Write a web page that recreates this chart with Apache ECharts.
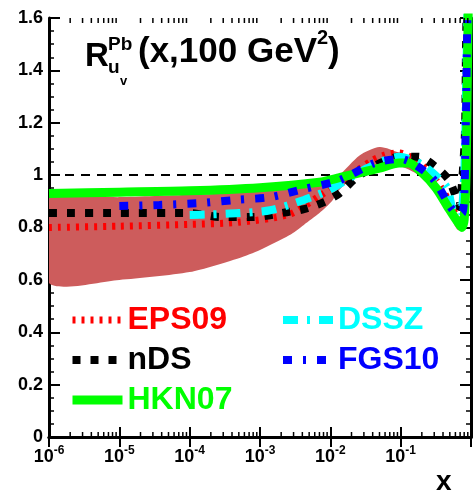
<!DOCTYPE html>
<html><head><meta charset="utf-8">
<script src="https://cdn.jsdelivr.net/npm/echarts@6/dist/echarts.min.js"></script>
<style>html,body{margin:0;padding:0;background:#fff}#c{width:473px;height:491px}</style>
</head><body><div id="c"></div>
<script>
// ---- data ----
const bandX    = [1e-6, 1e-5, 1e-4, 5e-4, 1e-3, 2.6e-3, 4.2e-3, 7e-3, 1.05e-2, 1.34e-2, 2.6e-2, 5e-2, 9.5e-2, 0.18, 0.32, 0.49, 0.65, 0.75, 0.85, 0.92, 0.96];
const bandLow  = [0.588, 0.60, 0.63, 0.683, 0.714, 0.77, 0.81, 0.855, 0.90, 0.943, 1.01, 1.03, 1.035, 1.0, 0.93, 0.85, 0.79, 0.80, 1.0, 1.5, 2.0];
const bandHigh = [0.912, 0.916, 0.925, 0.933, 0.94, 0.955, 0.962, 0.975, 0.99, 1.0, 1.075, 1.107, 1.085, 1.05, 0.97, 0.90, 0.84, 0.84, 1.1, 1.7, 2.2];

const eps09X = [1e-6, 1e-5, 1e-4, 5e-4, 2.6e-3, 7e-3, 1.5e-2, 4e-2, 6e-2, 9.5e-2, 0.18, 0.32, 0.49, 0.68, 0.78, 0.85, 0.9, 0.94];
const eps09Y = [0.80, 0.805, 0.812, 0.82, 0.85, 0.92, 0.98, 1.057, 1.077, 1.085, 1.05, 0.98, 0.90, 0.83, 0.85, 1.05, 1.4, 1.8];

const ndsX = [1e-6, 1e-5, 1e-4, 2.7e-4, 8e-4, 2.6e-3, 4.2e-3, 8.1e-3, 1.34e-2, 2.34e-2, 5e-2, 9.5e-2, 0.18, 0.32, 0.49, 0.61, 0.68, 0.745, 0.82, 0.85, 0.88];
const ndsY = [0.855, 0.855, 0.855, 0.84, 0.84, 0.86, 0.87, 0.897, 0.93, 0.99, 1.045, 1.07, 1.07, 1.03, 0.98, 0.916, 0.878, 0.97, 1.16, 1.5, 1.75];

const hknX = [1e-6, 1e-5, 1e-4, 1e-3, 7e-3, 1.34e-2, 5e-2, 9.5e-2, 0.13, 0.2, 0.32, 0.49, 0.65, 0.74, 0.80, 0.85, 0.88, 0.92];
const hknY = [0.93, 0.935, 0.94, 0.952, 0.973, 0.99, 1.027, 1.046, 1.046, 1.01, 0.95, 0.87, 0.82, 0.80, 0.83, 1.0, 1.3, 1.7];

const dsszX = [1e-4, 2e-4, 5e-4, 1.4e-3, 4.2e-3, 9.5e-3, 3e-2, 9.5e-2, 0.2, 0.45, 0.55, 0.7, 0.8, 0.86, 0.9];
const dsszY = [0.848, 0.85, 0.855, 0.866, 0.905, 0.943, 1.02, 1.07, 1.04, 0.955, 0.867, 0.84, 1.0, 1.4, 1.7];

const fgsX = [1e-5, 3.7e-5, 1.4e-4, 4.4e-4, 1.4e-3, 4.2e-3, 1.34e-2, 4.2e-2, 0.1, 0.28, 0.55, 0.75, 0.84, 0.87, 0.9];
const fgsY = [0.882, 0.886, 0.893, 0.905, 0.916, 0.947, 0.98, 1.046, 1.062, 0.99, 0.867, 0.855, 1.18, 1.45, 1.7];

const xMin = 1e-6, xMax = 1;
const yMin = 0, yMax = 1.6, yStep = 0.2;
const refLine = 1;

// ---- chart ----
const F = '"Liberation Sans", Arial, Helvetica, sans-serif';
const chart = echarts.init(document.getElementById('c'));
const zip = (xs, ys) => xs.map((x, i) => [x, ys[i]]);

// minor log ticks 2..9 per decade (axis decoration)
const minorTickVals = [];
for (let e = -6; e < 0; e++) for (let m = 2; m <= 9; m++) minorTickVals.push(m * Math.pow(10, e));

const axisCommon = {
  type: 'log', logBase: 10, min: xMin, max: xMax,
  axisLine: { show: true, lineStyle: { color: '#000', width: 3 } },
  axisTick: { show: true, inside: true, length: 10, lineStyle: { color: '#000', width: 2 } },
  splitLine: { show: false }, minorTick: { show: false }
};
const yCommon = {
  type: 'value', min: yMin, max: yMax, interval: yStep,
  axisLine: { show: true, lineStyle: { color: '#000', width: 3 } },
  axisTick: { show: true, inside: true, length: 11, lineStyle: { color: '#000', width: 2 } },
  minorTick: { show: true, splitNumber: 4, length: 5, lineStyle: { color: '#000', width: 1.5 } },
  splitLine: { show: false }
};

function lineSeries(name, xs, ys, color, width, dash, z) {
  return {
    name, type: 'line', data: zip(xs, ys), symbol: 'none', smooth: 0.25, z,
    lineStyle: { color, width, type: dash, cap: 'butt' }, itemStyle: { color }
  };
}

const legendCommon = {
  orient: 'vertical', padding: 0, itemWidth: 50, itemHeight: 14, itemGap: 8,
  selectedMode: false,
  itemStyle: { opacity: 0, borderWidth: 0 },
  lineStyle: { width: 'inherit', type: 'inherit', cap: 'butt', opacity: 1 },
  textStyle: { fontSize: 32, fontWeight: 'bold', fontFamily: F, lineHeight: 32 }
};

const option = {
  animation: false,
  backgroundColor: '#fff',
  grid: { left: 49, right: 2, top: 18, bottom: 54, containLabel: false },
  xAxis: [
    Object.assign({}, axisCommon, {
      position: 'bottom',
      axisLabel: {
        show: true, margin: 8, showMaxLabel: false,
        formatter: v => '{b|10}{s|' + Math.round(Math.log10(v)) + '}',
        rich: {
          b: { fontSize: 18, fontWeight: 'bold', fontFamily: F, color: '#000', lineHeight: 24 },
          s: { fontSize: 12, fontWeight: 'bold', fontFamily: F, color: '#000', lineHeight: 12, verticalAlign: 'top' }
        }
      }
    }),
    Object.assign({}, axisCommon, { position: 'top', axisLabel: { show: false } })
  ],
  yAxis: [
    Object.assign({}, yCommon, {
      position: 'left',
      axisLabel: { show: true, margin: 6, fontSize: 18, fontWeight: 'bold', fontFamily: F, color: '#000',
        formatter: v => (Math.round(v * 10) / 10).toString() }
    }),
    Object.assign({}, yCommon, { position: 'right', axisLabel: { show: false } })
  ],
  legend: [
    Object.assign({}, legendCommon, {
      left: 68, top: 304,
      data: [
        { name: 'EPS09', textStyle: { color: '#ff0000' } },
        { name: 'nDS', textStyle: { color: '#000000' } },
        { name: 'HKN07', textStyle: { color: '#00ff00' } }
      ]
    }),
    Object.assign({}, legendCommon, {
      left: 279, top: 304,
      data: [
        { name: 'DSSZ', textStyle: { color: '#00ffff' } },
        { name: 'FGS10', textStyle: { color: '#0000ff' } }
      ]
    })
  ],
  graphic: [
    { type: 'text', left: 85, top: 40, style: { text: 'R', font: 'bold 33px ' + F, fill: '#000' } },
    { type: 'text', left: 108, top: 35, style: { text: 'Pb', font: 'bold 19px ' + F, fill: '#000' } },
    { type: 'text', left: 108, top: 58, style: { text: 'u', font: 'bold 19px ' + F, fill: '#000' } },
    { type: 'text', left: 120, top: 75, style: { text: 'v', font: 'bold 13px ' + F, fill: '#000' } },
    { type: 'text', left: 138, top: 28, style: {
        text: '{a|(x,100 GeV}{s|2}{a|)}',
        rich: {
          a: { fontSize: 35, fontWeight: 'bold', fontFamily: F, fill: '#000', lineHeight: 48 },
          s: { fontSize: 20, fontWeight: 'bold', fontFamily: F, fill: '#000', lineHeight: 20, verticalAlign: 'top' }
        }
    } },
    { type: 'text', left: 436, top: 468, style: { text: 'x', font: 'bold 28px ' + F, fill: '#000' } }
  ],
  series: [
    {
      name: 'band', type: 'custom', z: 1, silent: true,
      data: bandX.map((x, i) => [x, bandLow[i], bandHigh[i]]),
      encode: { x: 0, y: [1, 2] },
      clip: true,
      renderItem: (params, api) => {
        if (params.dataIndex !== 0) return null;
        const up = bandX.map((x, i) => api.coord([x, bandHigh[i]]));
        const lo = bandX.map((x, i) => api.coord([x, bandLow[i]])).reverse();
        return { type: 'polygon', shape: { points: up.concat(lo), smooth: 0.25 },
          style: { fill: '#cd5c5c' } };
      }
    },
    Object.assign(lineSeries('EPS09', eps09X, eps09Y, '#ff0000', 7, [3, 6], 3), {
      markLine: { silent: true, symbol: 'none', label: { show: false },
        lineStyle: { color: '#000', width: 2, type: [9, 7] }, data: [{ yAxis: refLine }] }
    }),
    lineSeries('nDS', ndsX, ndsY, '#000000', 8, [8, 10], 4),
    lineSeries('DSSZ', dsszX, dsszY, '#00ffff', 8, [15, 9, 3, 9], 5),
    lineSeries('HKN07', hknX, hknY, '#00ff00', 9, 'solid', 6),
    lineSeries('FGS10', fgsX, fgsY, '#0000ff', 8, [9, 11, 3, 11], 7),
    {
      name: 'minorTicks', type: 'custom', z: 10, silent: true, clip: false,
      data: minorTickVals.map(v => [v, 0]),
      renderItem: (params, api) => {
        const v = minorTickVals[params.dataIndex];
        const b = api.coord([v, yMin]);
        const t = api.coord([v, yMax]);
        const st = { stroke: '#000', lineWidth: 1.5 };
        return { type: 'group', children: [
          { type: 'line', shape: { x1: b[0], y1: b[1], x2: b[0], y2: b[1] - 5 }, style: st },
          { type: 'line', shape: { x1: t[0], y1: t[1], x2: t[0], y2: t[1] + 5 }, style: st }
        ] };
      }
    }
  ]
};
chart.setOption(option);
</script>
</body></html>
